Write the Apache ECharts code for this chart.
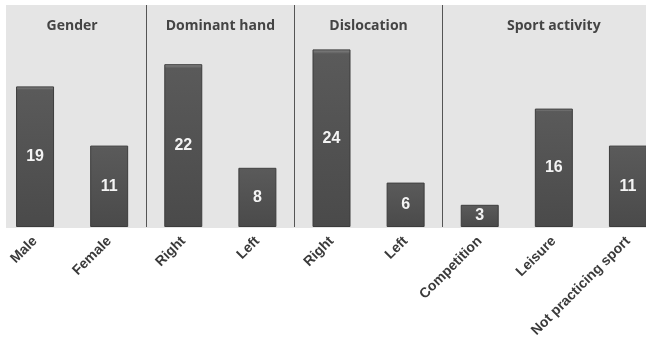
<!DOCTYPE html>
<html>
<head>
<meta charset="utf-8">
<script src="https://cdn.jsdelivr.net/npm/echarts@6/dist/echarts.min.js"></script>
<style>html,body{margin:0;padding:0;background:#fff}#c{width:646px;height:356px}</style>
</head>
<body>
<div id="c"></div>
<script>
const categories = ['Male', 'Female', 'Right', 'Left', 'Right', 'Left', 'Competition', 'Leisure', 'Not practicing sport'];
const values = [19, 11, 22, 8, 24, 6, 3, 16, 11];
const groups = [
  { name: 'Gender', from: 0, to: 1 },
  { name: 'Dominant hand', from: 2, to: 3 },
  { name: 'Dislocation', from: 4, to: 5 },
  { name: 'Sport activity', from: 6, to: 8 }
];
const dividerIndices = [2, 4, 6];

const chart = echarts.init(document.getElementById('c'), null, { renderer: 'canvas' });
chart.setOption({
  backgroundColor: '#ffffff',
  animation: false,
  graphic: [{
    type: 'rect', z: -10, silent: true,
    shape: { x: 6, y: 5, width: 640, height: 223 },
    style: { fill: '#e5e5e5' }
  }],
  grid: { left: -2, width: 667, top: 5, height: 222, containLabel: false, outerBoundsMode: 'none' },
  xAxis: {
    type: 'category',
    data: categories,
    axisLine: { show: false },
    axisTick: { show: false },
    splitLine: {
      show: true,
      interval: function (i) { return dividerIndices.indexOf(i) >= 0; },
      lineStyle: { color: '#555', width: 1 }
    },
    axisLabel: {
      interval: 0, rotate: 45, margin: 12,
      fontFamily: 'Liberation Sans', fontSize: 14, fontWeight: 'bold', color: '#3a3a3a'
    }
  },
  yAxis: {
    type: 'value', min: 0, max: 30, show: false
  },
  series: [{
    type: 'bar',
    data: values,
    barWidth: 38,
    itemStyle: {
      color: new echarts.graphic.LinearGradient(0, 0, 0, 1, [
        { offset: 0, color: '#8a8a8a' },
        { offset: 0.025, color: '#5a5a5a' },
        { offset: 1, color: '#4a4a4a' }
      ]),
      borderColor: '#3c3c3c', borderWidth: 1
    },
    label: {
      show: true, position: 'inside',
      color: '#f4f4f4', fontFamily: 'Liberation Sans', fontSize: 16, fontWeight: 'bold'
    },
    markArea: {
      silent: true,
      itemStyle: { color: 'rgba(0,0,0,0)' },
      label: {
        position: 'insideTop', distance: 14,
        fontFamily: 'Open Sans', fontSize: 14, fontWeight: 'bold', color: '#444'
      },
      data: groups.map(g => [{ name: g.name, xAxis: g.from }, { xAxis: g.to }])
    }
  }]
});
</script>
</body>
</html>
